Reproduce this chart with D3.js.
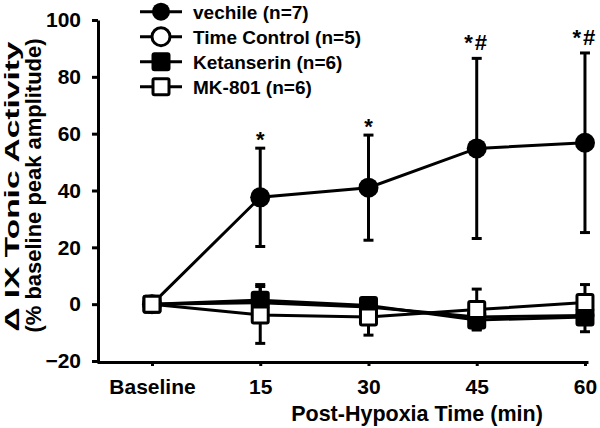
<!DOCTYPE html>
<html>
<head>
<meta charset="utf-8">
<script src="https://cdn.jsdelivr.net/npm/d3@7"></script>
<style>
  html, body { margin: 0; padding: 0; background: #fff; }
  svg { display: block; }
  text { font-family: "Liberation Sans", Arial, sans-serif; font-weight: bold; fill: #000; }
</style>
</head>
<body>
<script>
// ---- data ----
const xLabels = ["Baseline", "15", "30", "45", "60"];
const yTicks = [-20, 0, 20, 40, 60, 80, 100];
const seriesNames = ["vechile (n=7)", "Time Control (n=5)", "Ketanserin (n=6)", "MK-801 (n=6)"];
const vehicleMean = [0, 37.6, 41.0, 54.8, 56.8];
const vehicleErr = [0, 17.3, 18.5, 31.7, 31.6];
const timeControlMean = [0, 0.5, -1.0, -4.5, -4.0];
const timeControlErr = [0, 3, 2, 3, 3];
const ketanserinMean = [0, 1.4, -0.5, -5.6, -4.5];
const ketanserinErr = [0, 5.5, 2, 3.2, 5.2];
const mk801Mean = [0, -3.8, -4.5, -1.9, 0.6];
const mk801Err = [0, 10, 6.4, 7.2, 6.3];
const significance = ["", "*", "*", "*#", "*#"];

const W = 600, H = 428;
const svg = d3.select("body").append("svg").attr("width", W).attr("height", H);
svg.append("rect").attr("width", W).attr("height", H).attr("fill", "#fff");

const x = d3.scaleLinear().domain([-0.508, 4.028]).range([97, 588]);
const y = d3.scaleLinear().domain([-20, 100]).range([361, 20]);

// axes
const yAxis = svg.append("g").attr("transform", "translate(98,0)")
  .call(d3.axisLeft(y).tickValues(yTicks).tickSize(6).tickSizeOuter(0).tickPadding(11));
yAxis.attr("font-size", null).attr("font-family", null);
yAxis.selectAll("text").attr("font-size", 21).style("font-size", "21px");
yAxis.select(".domain").attr("stroke-width", 3);
yAxis.selectAll(".tick line").attr("stroke-width", 3);

const xAxis = svg.append("g").attr("transform", "translate(0,362)")
  .call(d3.axisBottom(x).tickValues([0, 1, 2, 3, 4]).tickFormat(i => xLabels[i])
    .tickSize(4).tickSizeOuter(0).tickPadding(13));
xAxis.attr("font-size", null).attr("font-family", null);
xAxis.selectAll("text").attr("font-size", 21).style("font-size", "21px");
xAxis.select(".domain").attr("stroke-width", 3);
xAxis.selectAll(".tick line").attr("stroke-width", 3);

// axis titles
svg.append("text").attr("x", 417).attr("y", 421).attr("text-anchor", "middle")
  .style("font-size", "21.5px").text("Post-Hypoxia Time (min)");
svg.append("text").attr("transform", "translate(19,186.5) rotate(-90)").attr("text-anchor", "middle")
  .attr("textLength", 290).attr("lengthAdjust", "spacingAndGlyphs")
  .style("font-size", "21px").text("\u0394 IX Tonic Activity");
svg.append("text").attr("transform", "translate(41,185.5) rotate(-90)").attr("text-anchor", "middle")
  .attr("textLength", 294).attr("lengthAdjust", "spacingAndGlyphs")
  .style("font-size", "22px").text("(% baseline peak amplitude)");

const series = [
  { name: seriesNames[0], mean: vehicleMean, err: vehicleErr, shape: "circle", fill: "#000", r: 10 },
  { name: seriesNames[1], mean: timeControlMean, err: timeControlErr, shape: "circle", fill: "#fff", r: 8 },
  { name: seriesNames[2], mean: ketanserinMean, err: ketanserinErr, shape: "square", fill: "#000", r: 8 },
  { name: seriesNames[3], mean: mk801Mean, err: mk801Err, shape: "square", fill: "#fff", r: 8 }
];

const line = d3.line().x((d, i) => x(i)).y(d => y(d));

function drawMarker(g, shape, cx, cy, r, fill) {
  if (shape === "circle") {
    g.append("circle").attr("cx", cx).attr("cy", cy).attr("r", r)
      .attr("fill", fill).attr("stroke", "#000").attr("stroke-width", fill === "#000" ? 0 : 3);
  } else {
    g.append("rect").attr("x", cx - r).attr("y", cy - r).attr("width", 2 * r).attr("height", 2 * r)
      .attr("rx", 1.5)
      .attr("fill", fill).attr("stroke", "#000").attr("stroke-width", 3);
  }
}

// draw vehicle first, MK-801 last (on top among the low cluster)
series.forEach(s => {
  const g = svg.append("g");
  g.append("path").datum(s.mean).attr("d", line).attr("fill", "none")
    .attr("stroke", "#000").attr("stroke-width", 3);
  s.mean.forEach((m, i) => {
    if (s.err[i] > 0) {
      const cx = x(i);
      g.append("line").attr("x1", cx).attr("x2", cx).attr("y1", y(m - s.err[i])).attr("y2", y(m + s.err[i]))
        .attr("stroke", "#000").attr("stroke-width", 3);
      [m - s.err[i], m + s.err[i]].forEach(v => {
        g.append("line").attr("x1", cx - 5).attr("x2", cx + 5).attr("y1", y(v)).attr("y2", y(v))
          .attr("stroke", "#000").attr("stroke-width", 3);
      });
    }
  });
  s.mean.forEach((m, i) => drawMarker(g, s.shape, x(i), y(m), s.r, s.fill));
});

// significance markers above vehicle error bars
significance.forEach((t, i) => {
  if (!t) return;
  const base = y(vehicleMean[i] + vehicleErr[i]) - (t.length > 1 ? 8 : 1);
  svg.append("text").attr("x", x(i)).attr("y", base)
    .attr("text-anchor", "middle").style("font-size", "22px").style("letter-spacing", t.length > 1 ? "2px" : "0px")
    .text(t);
});

// legend
const legend = svg.append("g");
series.forEach((s, k) => {
  const cy = 11.7 + k * 25;
  legend.append("line").attr("x1", 140).attr("x2", 182).attr("y1", cy).attr("y2", cy)
    .attr("stroke", "#000").attr("stroke-width", 3);
  drawMarker(legend, s.shape, 161, cy, s.shape === "circle" ? 9 : 8, s.fill);
  legend.append("text").attr("x", 193).attr("y", cy).attr("dy", "0.36em")
    .style("font-size", "19px").text(s.name);
});
</script>
</body>
</html>
